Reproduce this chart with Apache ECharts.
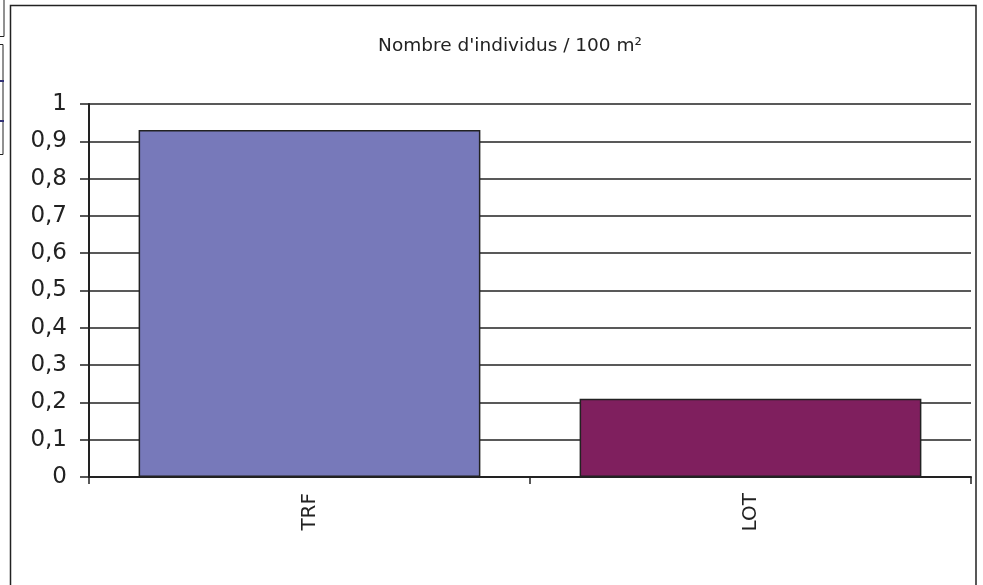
<!DOCTYPE html>
<html>
<head>
<meta charset="utf-8">
<script src="https://cdn.jsdelivr.net/npm/echarts@6/dist/echarts.min.js"></script>
<style>html,body{margin:0;padding:0;background:#fff}#c{width:983px;height:585px}</style>
</head>
<body>
<div id="c"></div>
<script>
var titleText = "Nombre d'individus / 100 m²";
var categories = ["TRF", "LOT"];
var values = [0.93, 0.21];
var barColors = ["#7779BA", "#7F1F5E"];

var chart = echarts.init(document.getElementById('c'), null, {renderer: 'canvas'});
chart.setOption({
  animation: false,
  backgroundColor: '#ffffff',
  title: {
    text: titleText,
    left: 505, top: 32, textAlign: 'center',
    textStyle: {fontFamily: 'DejaVu Sans', fontSize: 18.5, fontWeight: 'normal', color: '#222'}
  },
  grid: {left: 89, right: 12, top: 104, bottom: 108},
  xAxis: {
    type: 'category',
    data: categories,
    axisLine: {lineStyle: {color: '#222', width: 2}},
    axisTick: {show: true, alignWithLabel: false, length: 7, lineStyle: {color: '#222', width: 1.5}},
    axisLabel: {rotate: 90, margin: 16, fontFamily: 'DejaVu Sans', fontSize: 20, color: '#222'}
  },
  yAxis: {
    type: 'value', min: 0, max: 1, interval: 0.1,
    axisLine: {show: true, lineStyle: {color: '#222', width: 2}},
    axisTick: {show: true, length: 9, lineStyle: {color: '#222', width: 1.5}},
    splitLine: {show: true, lineStyle: {color: '#222', width: 1.5}},
    axisLabel: {
      margin: 22, fontFamily: 'DejaVu Sans', fontSize: 23, color: '#222',
      formatter: function (v) { return (Math.round(v * 10) / 10).toString().replace('.', ','); }
    }
  },
  series: [{
    type: 'bar',
    data: values.map(function (v, i) { return {value: v, itemStyle: {color: barColors[i]}}; }),
    barWidth: '77.5%',
    itemStyle: {borderColor: '#222', borderWidth: 1.5}
  }],
  graphic: [
    {type: 'rect', shape: {x: 10.5, y: 5.5, width: 965.5, height: 600}, style: {fill: 'none', stroke: '#222', lineWidth: 1.5}, silent: true},
    {type: 'rect', shape: {x: -2, y: -2, width: 6, height: 38.5}, style: {fill: 'none', stroke: '#222', lineWidth: 1}, silent: true},
    {type: 'rect', shape: {x: -2, y: 44.5, width: 5, height: 110}, style: {fill: 'none', stroke: '#222', lineWidth: 1}, silent: true},
    {type: 'rect', shape: {x: 0, y: 80, width: 4, height: 2}, style: {fill: '#333377'}, silent: true},
    {type: 'rect', shape: {x: 0, y: 120, width: 4, height: 2}, style: {fill: '#333377'}, silent: true}
  ]
});
</script>
</body>
</html>
